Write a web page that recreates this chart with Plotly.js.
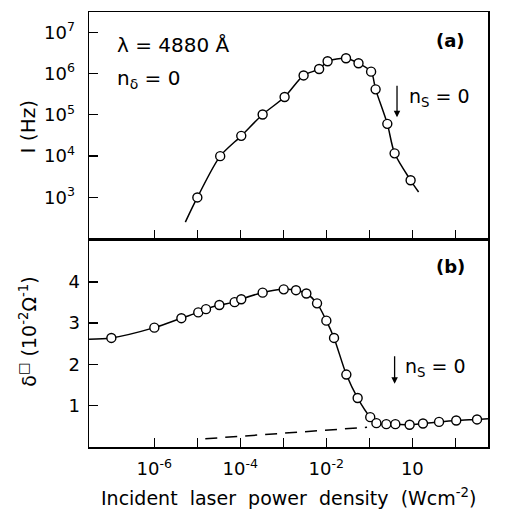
<!DOCTYPE html>
<html>
<head>
<meta charset="utf-8">
<script src="https://cdn.plot.ly/plotly-3.0.1.min.js"></script>
<style>html,body{margin:0;padding:0;background:#fff;}#chart{width:513px;height:510px;}</style>
</head>
<body>
<div id="chart"></div>
<script>
// ---- Panel (a): photo-current I (Hz) vs incident power density ----
const powerA = [1.0e-5, 3.4e-5, 1.05e-4, 3.3e-4, 1.07e-3, 2.96e-3, 6.8e-3, 1.07e-2, 2.87e-2, 5.6e-2, 0.110, 0.140, 0.262, 0.387, 0.912];
const intensityA = [1.0e3, 1.0e4, 3.1e4, 1.02e5, 2.7e5, 9.0e5, 1.29e6, 1.98e6, 2.34e6, 1.77e6, 1.11e6, 4.14e5, 6.05e4, 1.17e4, 2.6e3];
const curveA_x = [5.26e-6, 1.0e-5, 3.4e-5, 1.05e-4, 3.3e-4, 1.07e-3, 2.96e-3, 6.8e-3, 1.07e-2, 2.87e-2, 5.6e-2, 0.110, 0.140, 0.262, 0.387, 0.912, 1.40];
const curveA_y = [253, 1.0e3, 1.0e4, 3.1e4, 1.02e5, 2.7e5, 9.0e5, 1.29e6, 1.98e6, 2.34e6, 1.77e6, 1.11e6, 4.14e5, 6.05e4, 1.17e4, 2.6e3, 1352];

// ---- Panel (b): conductance vs incident power density ----
const powerB = [1e-7, 1e-6, 4.25e-6, 1.05e-5, 1.59e-5, 3.25e-5, 7.36e-5, 1.05e-4, 3.3e-4, 1.02e-3, 1.97e-3, 3.43e-3, 6.08e-3, 1.0e-2, 1.51e-2, 2.92e-2, 5.35e-2, 0.105, 0.146, 0.248, 0.403, 0.865, 1.77, 4.18, 10.5, 32.0];
const sigmaB = [2.64, 2.89, 3.12, 3.26, 3.34, 3.44, 3.51, 3.58, 3.74, 3.82, 3.80, 3.72, 3.48, 3.06, 2.64, 1.75, 1.18, 0.715, 0.57, 0.545, 0.545, 0.53, 0.56, 0.60, 0.635, 0.66];
const curveB_x = [3.03e-8].concat(powerB, [57.5]);
const curveB_y = [2.61].concat(sigmaB, [0.676]);
const dashB_x = [1.53e-5, 8.85e-2];
const dashB_y = [0.19, 0.47];

// ---- Tick labels ----
const xTickVals = [1e-6, 1e-4, 1e-2, 1];
const xTickText = ['10<sup>-6</sup>', '10<sup>-4</sup>', '10<sup>-2</sup>', '10'];
const xMinorTickVals = [1e-5, 1e-3, 1e-1, 10];
const yTickValsA = [1e3, 1e4, 1e5, 1e6, 1e7];
const yTickTextA = ['10<sup>3</sup>', '10<sup>4</sup>', '10<sup>5</sup>', '10<sup>6</sup>', '10<sup>7</sup>'];
const yTickValsB = [1, 2, 3, 4];

const FONT = 'DejaVu Sans, sans-serif';
const lineStyle = {color: '#000', width: 1.5, shape: 'spline', smoothing: 0.8};
const markerStyle = {symbol: 'circle', size: 9, color: '#fff', line: {color: '#000', width: 1.4}};

const traces = [
  {x: curveA_x, y: curveA_y, xaxis: 'x2', yaxis: 'y2', mode: 'lines', line: lineStyle, hoverinfo: 'skip'},
  {x: powerA, y: intensityA, xaxis: 'x2', yaxis: 'y2', mode: 'markers', marker: markerStyle},
  {x: dashB_x, y: dashB_y, xaxis: 'x', yaxis: 'y', mode: 'lines', line: {color: '#000', width: 1.5, dash: '12px,8px'}},
  {x: curveB_x, y: curveB_y, xaxis: 'x', yaxis: 'y', mode: 'lines', line: lineStyle},
  {x: powerB, y: sigmaB, xaxis: 'x', yaxis: 'y', mode: 'markers', marker: markerStyle}
];

const axisCommon = {
  showline: true, mirror: true, linecolor: '#000', linewidth: 1.5,
  ticks: 'inside', ticklen: 9, tickwidth: 1.3, tickcolor: '#000',
  showgrid: false, zeroline: false,
  tickfont: {family: FONT, size: 18, color: '#000'}
};
const minorX = {tickmode: 'array', tickvals: xMinorTickVals, ticks: 'inside', ticklen: 9, tickwidth: 1.3, tickcolor: '#000', showgrid: false};

const layout = {
  width: 513, height: 510,
  margin: {l: 89, r: 25, t: 12, b: 63},
  paper_bgcolor: '#fff', plot_bgcolor: '#fff',
  showlegend: false,
  font: {family: FONT, color: '#000'},
  xaxis: Object.assign({}, axisCommon, {
    type: 'log', range: [-7.52, 1.76], anchor: 'y',
    tickmode: 'array', tickvals: xTickVals, ticktext: xTickText, ticklabelstandoff: 5,
    minor: minorX
  }),
  xaxis2: Object.assign({}, axisCommon, {
    type: 'log', range: [-7.52, 1.76], anchor: 'y2', matches: 'x',
    tickmode: 'array', tickvals: xTickVals, showticklabels: false,
    minor: minorX
  }),
  yaxis: Object.assign({}, axisCommon, {
    range: [-0.01, 5.04], domain: [0, 0.4778], anchor: 'x',
    tickmode: 'array', tickvals: yTickValsB, ticklabelstandoff: 4
  }),
  yaxis2: Object.assign({}, axisCommon, {
    type: 'log', range: [1.99, 7.49], domain: [0.4778, 1], anchor: 'x2',
    tickmode: 'array', tickvals: yTickValsA, ticktext: yTickTextA, ticklabelstandoff: 9
  }),
  annotations: [
    {xref: 'paper', yref: 'paper', x: -0.152, y: 0.7355, text: 'I (Hz)', textangle: -90, showarrow: false,
     font: {family: FONT, size: 20}, xanchor: 'center', yanchor: 'middle'},
    {xref: 'paper', yref: 'paper', x: -0.152, y: 0.266, text: 'δ<sup>□</sup> (10<sup>-2</sup>Ω<sup>-1</sup>)', textangle: -90, showarrow: false,
     font: {family: FONT, size: 19}, xanchor: 'center', yanchor: 'middle'},
    {xref: 'paper', yref: 'paper', x: 0.5, y: -0.1157, text: 'Incident  laser  power  density  (Wcm<sup>-2</sup>)', showarrow: false,
     font: {family: FONT, size: 19}, xanchor: 'center', yanchor: 'middle'},
    {xref: 'x2', yref: 'y2', x: -6.907, y: 6.69, text: 'λ = 4880 Å', showarrow: false,
     font: {family: FONT, size: 20}, xanchor: 'left', yanchor: 'middle'},
    {xref: 'x2', yref: 'y2', x: -6.907, y: 5.86, text: 'n<sub>δ</sub> = 0', showarrow: false,
     font: {family: FONT, size: 20}, xanchor: 'left', yanchor: 'middle'},
    {xref: 'x2', yref: 'y2', x: 0.884, y: 6.79, text: '<b>(a)</b>', showarrow: false,
     font: {family: FONT, size: 18}, xanchor: 'center', yanchor: 'middle'},
    {xref: 'x2', yref: 'y2', x: -0.356, y: 4.944, ax: 0, ay: -40, text: ' ', showarrow: true,
     arrowhead: 2, arrowsize: 1, arrowwidth: 1.3, arrowcolor: '#000'},
    {xref: 'x2', yref: 'y2', x: -0.116, y: 5.43, text: 'n<sub>S</sub> = 0', showarrow: false,
     font: {family: FONT, size: 19}, xanchor: 'left', yanchor: 'middle'},
    {xref: 'x', yref: 'y', x: 0.884, y: 4.38, text: '<b>(b)</b>', showarrow: false,
     font: {family: FONT, size: 18}, xanchor: 'center', yanchor: 'middle'},
    {xref: 'x', yref: 'y', x: -0.412, y: 1.528, ax: 0, ay: -36, text: ' ', showarrow: true,
     arrowhead: 2, arrowsize: 1, arrowwidth: 1.3, arrowcolor: '#000'},
    {xref: 'x', yref: 'y', x: -0.209, y: 1.925, text: 'n<sub>S</sub> = 0', showarrow: false,
     font: {family: FONT, size: 19}, xanchor: 'left', yanchor: 'middle'}
  ]
};

Plotly.newPlot('chart', traces, layout, {displayModeBar: false, staticPlot: true});
</script>
</body>
</html>
